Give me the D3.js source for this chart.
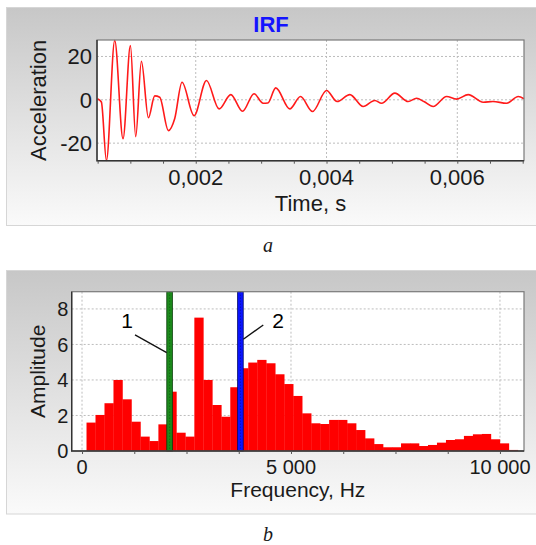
<!DOCTYPE html>
<html>
<head>
<meta charset="utf-8">
<script src="https://cdn.jsdelivr.net/npm/d3@7"></script>
<style>
  html, body { margin: 0; padding: 0; background: #fff; }
  svg { display: block; }
  text { font-family: "Liberation Sans", Arial, sans-serif; fill: #1a1a1a; }
</style>
</head>
<body>
<svg id="chart" width="536" height="545"></svg>
<script>
// ---------- DATA ----------
// Panel a: impulse response function (time in s, acceleration)
const irfTime = [0.000496, 0.000557, 0.000634, 0.000761, 0.000888, 0.001001, 0.001082, 0.001169,
  0.001276, 0.001373, 0.001449, 0.001582, 0.001679, 0.001790, 0.001974, 0.002164, 0.002357,
  0.002536, 0.002715, 0.002892, 0.003030, 0.003102, 0.003224, 0.003438, 0.003602, 0.003786,
  0.004000, 0.004162, 0.004357, 0.004560, 0.004739, 0.004842, 0.005045, 0.005249, 0.005377,
  0.005489, 0.005631, 0.005836, 0.005989, 0.006167, 0.006396, 0.006545, 0.006754, 0.006932, 0.007019];
const irfAccel = [0.5, -1, -28, 27.4, -18, 25, -17, 17.8,
  -8.3, 1.8, 1.2, -14.2, -8.6, 8.1, -7.3, 8.9, -4.2,
  2.4, -5.3, 2.8, -1.6, -1.5, 5.5, -4.2, 1.5, -5.4,
  4.3, -0.8, 2.4, -3.1, -0.3, -1.6, 3.1, -0.8, 0.7,
  -0.8, -3.1, 1.5, 0.3, 2.4, -1.1, -0.8, -1.6, 1.5, 0.5];
const irfXTicks = [0.002, 0.004, 0.006];
const irfXMinor = [0.0005, 0.001, 0.0015, 0.002, 0.0025, 0.003, 0.0035, 0.004, 0.0045, 0.005, 0.0055, 0.006, 0.0065, 0.007];
const irfYTicks = [-20, 0, 20];

// Panel b: amplitude spectrum (bin centre frequency in Hz, amplitude)
const binFreq = [215, 430, 645, 860, 1075, 1290, 1505, 1720, 1935, 2150, 2365, 2580, 2795, 3010,
  3225, 3440, 3655, 3870, 4085, 4300, 4515, 4730, 4945, 5160, 5375, 5590, 5805, 6020, 6235,
  6450, 6665, 6880, 7095, 7310, 7525, 7740, 7955, 8170, 8385, 8600, 8815, 9030, 9245, 9460,
  9675, 9890, 10105, 10320];
const binAmp = [1.6, 2.03, 2.69, 4.0, 2.91, 1.65, 0.81, 0.56, 1.5, 3.34, 1.03, 0.81, 7.51, 4.0,
  2.59, 1.93, 3.59, 4.66, 4.98, 5.13, 4.94, 4.32, 3.77, 3.1, 2.12, 1.56, 1.52, 1.75, 1.75,
  1.56, 1.18, 0.71, 0.39, 0.21, 0.21, 0.43, 0.43, 0.28, 0.34, 0.47, 0.62, 0.66, 0.85, 0.94,
  0.96, 0.66, 0.43, 0.06];
const binWidth = 215;
const specXTicks = [0, 5000, 10000];
const specXMinor = [0, 1250, 2500, 3750, 5000, 6250, 7500, 8750, 10000];
const specYTicks = [0, 2, 4, 6, 8];
// Marker lines
const markerFreq = [2095, 3790];
const markerColor = ["#1c8a1c", "#0a14ff"];
const markerDark = ["#0b3f0b", "#000a66"];
// Annotation labels: text, label position, leader line start/end (Hz, amplitude)
const annLabels = ["1", "2"];
const annTextPos = [[1077, 6.93], [4689, 6.93]];
const annLineFrom = [[1268, 6.54], [4337, 7.1]];
const annLineTo = [[2026, 5.54], [3859, 6.29]];

// ---------- SETUP ----------
const svg = d3.select("#chart");
const locale = d3.formatLocale({ decimal: ",", thousands: "\u00a0", grouping: [3], currency: ["", ""] });
const fmtTime = locale.format(".3f");
const fmtFreq = locale.format(",.0f");

const defs = svg.append("defs");
const grad = defs.append("linearGradient").attr("id", "panelGrad")
  .attr("x1", 0).attr("y1", 0).attr("x2", 0).attr("y2", 1);
grad.append("stop").attr("offset", "0%").attr("stop-color", "#c7c7c7");
grad.append("stop").attr("offset", "100%").attr("stop-color", "#fafafa");

function panel(y0, y1) {
  svg.append("rect").attr("x", 6.5).attr("y", y0 + 0.5).attr("width", 540).attr("height", y1 - y0)
    .attr("fill", "url(#panelGrad)").attr("stroke", "#d6d6d6");
}

function frame(g, L, R, T, B) {
  g.append("rect").attr("x", L).attr("y", T).attr("width", R - L).attr("height", B - T)
    .attr("fill", "none").attr("stroke", "#7a7a7a").attr("stroke-width", 1.2);
  g.append("path").attr("d", `M${L},${T}V${B}H${R}`).attr("fill", "none")
    .attr("stroke", "#333").attr("stroke-width", 1.4);
}

// ---------- PANEL A ----------
panel(7, 225);
{
  const L = 97, R = 524, T = 40, B = 160.7;
  const x = d3.scaleLinear().domain([0.00049, 0.00702]).range([L, R]);
  const y = d3.scaleLinear().domain([-28.1, 27.6]).range([B, T]);
  const g = svg.append("g");
  g.append("rect").attr("x", L).attr("y", T).attr("width", R - L).attr("height", B - T).attr("fill", "#fff");
  // grid
  g.selectAll(".vg").data(irfXTicks).join("line")
    .attr("x1", d => x(d)).attr("x2", d => x(d)).attr("y1", T).attr("y2", B)
    .attr("stroke", "#bdbdbd").attr("stroke-dasharray", "2,2");
  g.selectAll(".hg").data(irfYTicks).join("line")
    .attr("x1", L).attr("x2", R).attr("y1", d => y(d)).attr("y2", d => y(d))
    .attr("stroke", "#bdbdbd").attr("stroke-dasharray", "2,2");
  // line
  const pts = irfTime.map((t, i) => [t, irfAccel[i]]);
  g.append("path").datum(pts)
    .attr("d", d3.line().x(d => x(d[0])).y(d => y(d[1])).curve(d3.curveMonotoneX))
    .attr("fill", "none").attr("stroke", "#ff1a1a").attr("stroke-width", 1.6);
  frame(g, L, R, T, B);
  // x axis
  const xa = g.append("g").attr("transform", `translate(0,${B})`)
    .call(d3.axisBottom(x).tickValues(irfXMinor).tickSize(3).tickFormat(""));
  xa.select(".domain").remove();
  xa.selectAll("line").attr("stroke", "#555");
  g.selectAll(".xl").data(irfXTicks).join("text")
    .attr("x", d => x(d)).attr("y", 185).attr("text-anchor", "middle")
    .style("font-size", "22px").text(d => fmtTime(d));
  g.selectAll(".yl").data(irfYTicks).join("text")
    .attr("x", 92).attr("y", d => y(d)).attr("dy", "0.36em").attr("text-anchor", "end")
    .style("font-size", "22px").text(d => d);
  g.append("text").attr("x", (L + R) / 2).attr("y", 211).attr("text-anchor", "middle")
    .style("font-size", "22px").text("Time, s");
  g.append("text").attr("transform", `translate(38,${(T + B) / 2}) rotate(-90)`)
    .attr("dy", "0.36em").attr("text-anchor", "middle")
    .style("font-size", "22px").text("Acceleration");
  g.append("text").attr("x", 271).attr("y", 31.5).attr("text-anchor", "middle")
    .style("font-size", "22px").style("font-weight", "bold").style("fill", "#1414ff").text("IRF");
}
svg.append("text").attr("x", 268).attr("y", 252).attr("text-anchor", "middle")
  .style("font-family", "'Liberation Serif', 'Times New Roman', serif").style("font-style", "italic")
  .style("font-size", "20px").text("a");

// ---------- PANEL B ----------
panel(270, 513.5);
{
  const L = 71.7, R = 524, T = 291.7, B = 451;
  const x = d3.scaleLinear().domain([-247, 10575]).range([L, R]);
  const y = d3.scaleLinear().domain([0, 8.97]).range([B, T]);
  const g = svg.append("g");
  g.append("rect").attr("x", L).attr("y", T).attr("width", R - L).attr("height", B - T).attr("fill", "#fff");
  g.selectAll(".vg").data(specXTicks).join("line")
    .attr("x1", d => x(d)).attr("x2", d => x(d)).attr("y1", T).attr("y2", B)
    .attr("stroke", "#bdbdbd").attr("stroke-dasharray", "2,2");
  g.selectAll(".hg").data(specYTicks.filter(d => d > 0)).join("line")
    .attr("x1", L).attr("x2", R).attr("y1", d => y(d)).attr("y2", d => y(d))
    .attr("stroke", "#bdbdbd").attr("stroke-dasharray", "2,2");
  // bars
  g.selectAll(".bar").data(binFreq).join("rect")
    .attr("x", d => x(d - binWidth / 2))
    .attr("width", x(binWidth) - x(0) + 0.3)
    .attr("y", (d, i) => y(binAmp[i]))
    .attr("height", (d, i) => y(0) - y(binAmp[i]))
    .attr("fill", "#ff0000");
  // markers
  markerFreq.forEach((f, i) => {
    const cx = x(f);
    g.append("rect").attr("x", cx - 2.8).attr("y", T).attr("width", 5.6).attr("height", B - T)
      .attr("fill", markerColor[i]).attr("stroke", markerDark[i]).attr("stroke-width", 0.8);
    g.append("line").attr("x1", cx).attr("x2", cx).attr("y1", T).attr("y2", B)
      .attr("stroke", markerDark[i]).attr("stroke-width", 1).attr("stroke-dasharray", "1,2").attr("opacity", 0.6);
  });
  // annotations
  annLabels.forEach((t, i) => {
    g.append("line")
      .attr("x1", x(annLineFrom[i][0])).attr("y1", y(annLineFrom[i][1]))
      .attr("x2", x(annLineTo[i][0])).attr("y2", y(annLineTo[i][1]))
      .attr("stroke", "#111").attr("stroke-width", 1.3);
    g.append("text").attr("x", x(annTextPos[i][0])).attr("y", y(annTextPos[i][1]))
      .attr("text-anchor", "middle").style("font-size", "21px").style("fill", "#000").text(t);
  });
  frame(g, L, R, T, B);
  const xa = g.append("g").attr("transform", `translate(0,${B})`)
    .call(d3.axisBottom(x).tickValues(specXMinor).tickSize(3).tickFormat(""));
  xa.select(".domain").remove();
  xa.selectAll("line").attr("stroke", "#555");
  g.selectAll(".xl").data(specXTicks).join("text")
    .attr("x", d => x(d)).attr("y", 474).attr("text-anchor", "middle")
    .style("font-size", "20px").text(d => fmtFreq(d));
  g.selectAll(".yl").data(specYTicks).join("text")
    .attr("x", 68.3).attr("y", d => y(d)).attr("dy", "0.36em").attr("text-anchor", "end")
    .style("font-size", "20px").text(d => d);
  g.append("text").attr("x", (L + R) / 2).attr("y", 497).attr("text-anchor", "middle")
    .style("font-size", "21px").text("Frequency, Hz");
  g.append("text").attr("transform", `translate(37,${(T + B) / 2}) rotate(-90)`)
    .attr("dy", "0.36em").attr("text-anchor", "middle")
    .style("font-size", "21px").text("Amplitude");
}
svg.append("text").attr("x", 268).attr("y", 541).attr("text-anchor", "middle")
  .style("font-family", "'Liberation Serif', 'Times New Roman', serif").style("font-style", "italic")
  .style("font-size", "20px").text("b");
</script>
</body>
</html>
